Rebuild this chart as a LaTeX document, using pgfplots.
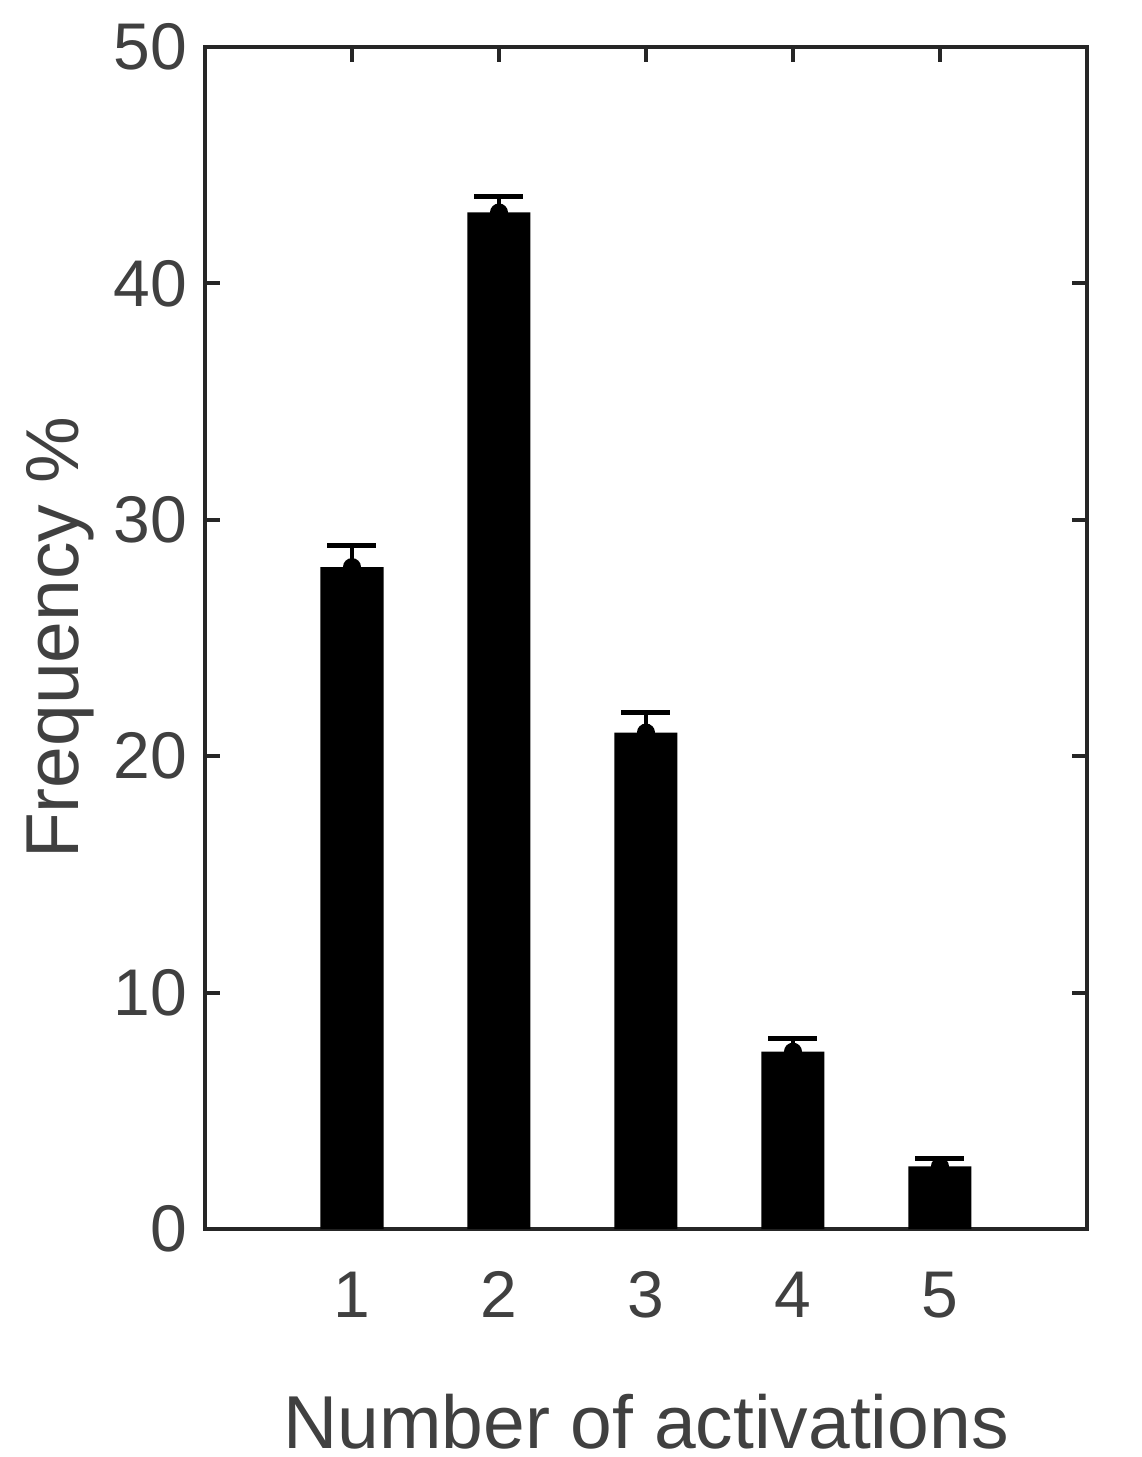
\documentclass[border=0pt]{standalone}
\usepackage{fontspec}
\setmainfont{Liberation Sans}
\usepackage{pgfplots}
\pgfplotsset{compat=1.18}

\definecolor{axgray}{gray}{0.15}
\definecolor{txtgray}{gray}{0.25}

\begin{document}
\begin{tikzpicture}
\begin{axis}[
	scale only axis,
	width=176.4pt, height=236.4pt,
	xmin=0, xmax=6, ymin=0, ymax=50,
	xtick={1,2,3,4,5},
	ytick={0,10,...,50},
	tick align=inside,
	major tick length=3pt,
	axis line style={line width=0.8pt, axgray},
	tick style={line width=0.8pt, axgray},
	/pgf/number format/assume math mode=true,
	ticklabel style={font=\fontsize{13.2}{15}\selectfont, text=txtgray},
	xticklabel style={yshift=-5pt},
	label style={font=\fontsize{15}{18}\selectfont, text=txtgray},
	xlabel={Number of activations},
	ylabel={Frequency \%},
	xlabel style={at={(axis description cs:0.5,-0.186)}, anchor=base, inner sep=0pt},
	ylabel style={at={(axis description cs:-0.143,0.5)}, anchor=base, inner sep=0pt},
]
\addplot[ybar, bar width=12.6pt, fill=black, draw=none] coordinates {
	(1,28) (2,43) (3,21) (4,7.5) (5,2.65)
};
\addplot[only marks, black, mark=*, mark size=1.6pt,
	error bars/.cd, y dir=plus, y explicit, error mark=|,
	error bar style={line width=0.7pt, black},
	error mark options={line width=1pt, mark size=4.9pt, black}]
coordinates {
	(1,28) +- (0,0.9)
	(2,43) +- (0,0.68)
	(3,21) +- (0,0.85)
	(4,7.5) +- (0,0.55)
	(5,2.65) +- (0,0.35)
};
\end{axis}
\pgfresetboundingbox
\useasboundingbox ([shift={(-41pt,-45.6pt)}]current axis.south west) rectangle ([shift={(11pt,9.4pt)}]current axis.north east);
\end{tikzpicture}
\end{document}
